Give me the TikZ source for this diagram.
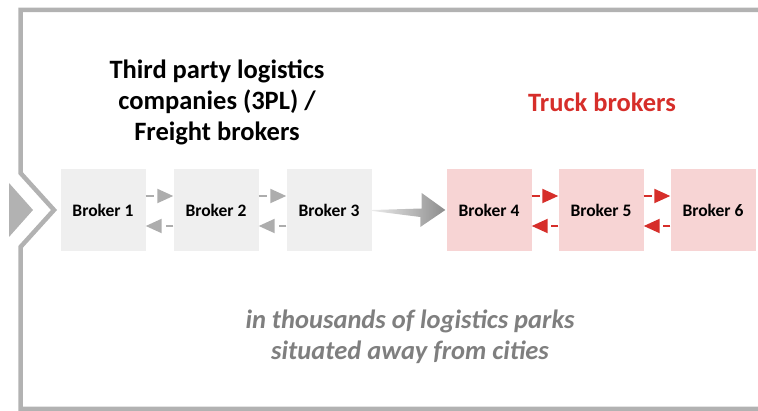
\documentclass[tikz,border=0pt]{standalone}
\usepackage{fontspec}
\setmainfont{Carlito}
\usetikzlibrary{arrows.meta}
\definecolor{framegray}{HTML}{B2B2B2}
\definecolor{boxgray}{HTML}{EFEFEF}
\definecolor{boxpink}{HTML}{F7D4D4}
\definecolor{arrowgray}{HTML}{ADADAD}
\definecolor{arrowred}{HTML}{D62E2A}
\definecolor{notegray}{HTML}{7F7F7F}
\tikzset{
  broker/.style={minimum width=85pt, minimum height=82pt, inner sep=0pt,
    font=\fontsize{17.5}{20}\selectfont\bfseries},
  graybroker/.style={broker, fill=boxgray},
  pinkbroker/.style={broker, fill=boxpink},
  linkfwd/.style={line width=2pt, dash pattern=on 8pt off 20pt,
    -{Triangle[length=16pt,width=14pt]}},
  linkback/.style={line width=2pt, dash pattern=on 7pt off 20pt,
    -{Triangle[length=16pt,width=14pt]}},
  heading/.style={align=center, font=\fontsize{26.5}{31}\selectfont\bfseries},
}
\begin{document}
\begin{tikzpicture}[x=1pt, y=-1pt]
  \useasboundingbox (0,0) rectangle (758,411);
  % outer frame with the chevron notch on the left edge
  \draw[framegray, line width=4.5pt, line join=miter]
    (762,10) -- (20.5,10) -- (20.5,173) -- (54,210) -- (20.5,247)
    -- (20.5,409) -- (762,409);
  \fill[framegray] (9,183) -- (33,210) -- (9,237) -- cycle;

  % heading texts
  \node[heading] (tpl) at (217,102)
    {Third party logistics\\companies (3PL) /\\Freight brokers};
  \node[heading, text=arrowred] (truck) at (602,102) {Truck brokers};

  % broker boxes
  \node[graybroker] (b1) at (103,210) {Broker 1};
  \node[graybroker] (b2) at (216,210) {Broker 2};
  \node[graybroker] (b3) at (329,210) {Broker 3};
  \node[pinkbroker] (b4) at (489,210) {Broker 4};
  \node[pinkbroker] (b5) at (601,210) {Broker 5};
  \node[pinkbroker] (b6) at (713,210) {Broker 6};

  % links between neighbouring brokers
  \foreach \a/\b/\c in {b1/b2/arrowgray, b2/b3/arrowgray,
                        b4/b5/arrowred, b5/b6/arrowred} {
    \draw[linkfwd, \c] ([yshift=14pt]\a.east) -- ([yshift=14pt]\b.west);
    \draw[linkback, \c] ([yshift=-16pt]\b.west) -- ([yshift=-16pt]\a.east);
  }

  % tapered shaded arrow from the 3PL group to the truck brokers
  \coordinate (t) at ([xshift=1pt]b3.east);
  \coordinate (h) at ([xshift=-1pt]b4.west);
  \shade[left color=white!92!black, right color=black!45]
    (t) -- ++(49,-1.5) -- ++(0,-15.5) -- (h) -- ++(-25,17) -- ++(0,-10)
    -- ([yshift=-1pt]t) -- cycle;

  % note below
  \node[align=center, text=notegray,
        font=\fontsize{26.5}{31}\selectfont\bfseries\itshape] (note) at (410,337)
    {in thousands of logistics parks\\situated away from cities};
\end{tikzpicture}
\end{document}
